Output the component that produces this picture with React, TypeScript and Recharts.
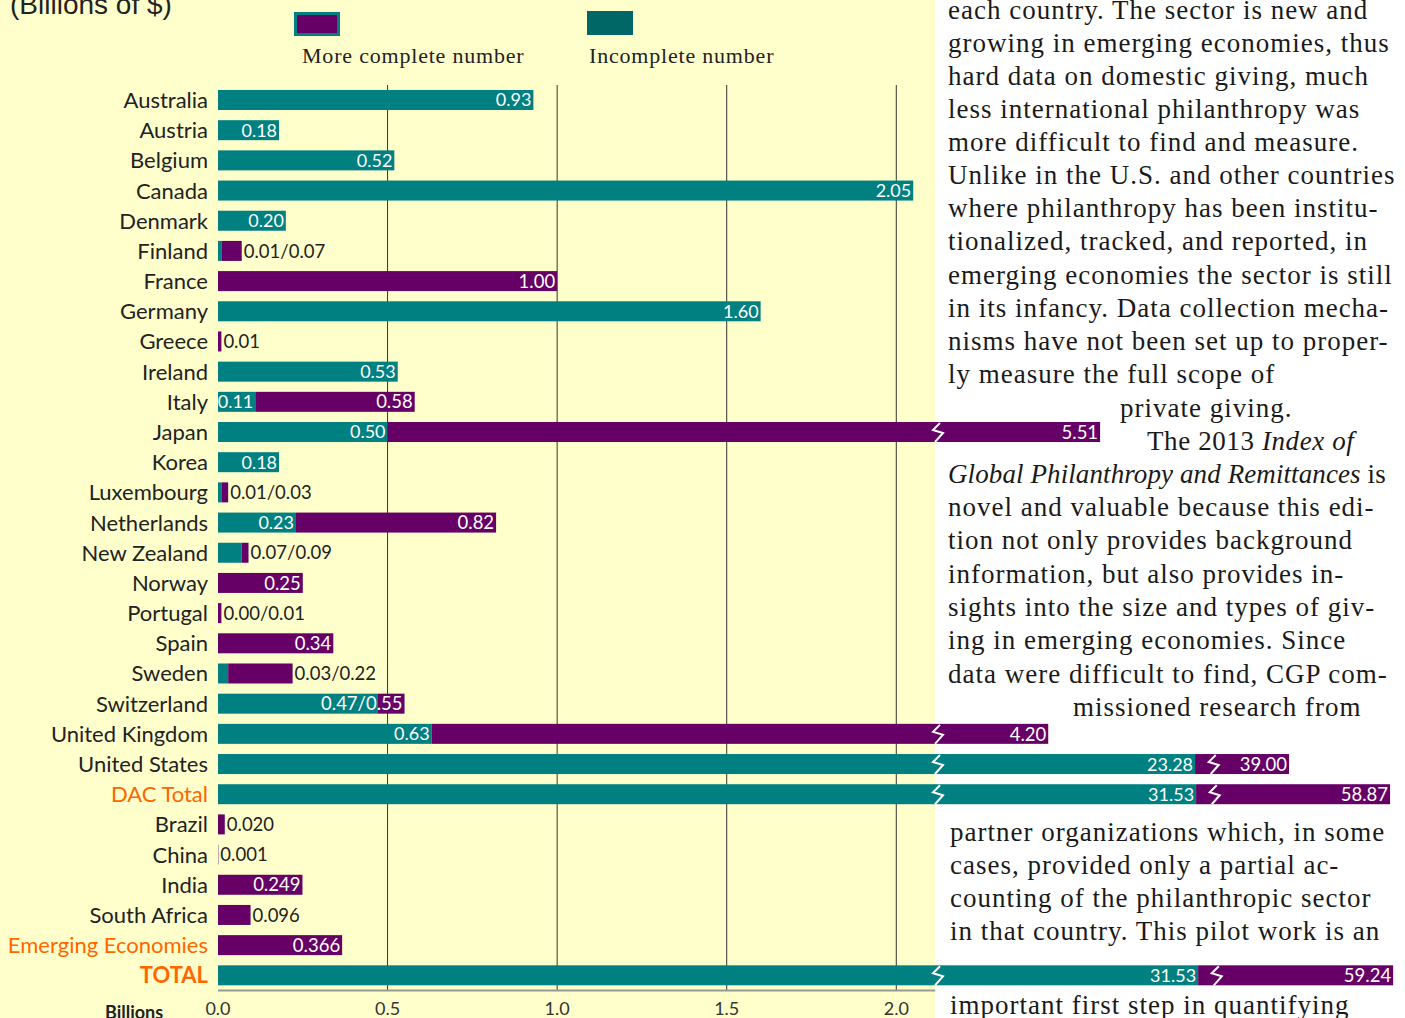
import React from 'react';
import { BarChart, Bar, XAxis, YAxis, CartesianGrid, ReferenceLine, LabelList } from 'recharts';

const categories = [
  'Australia', 'Austria', 'Belgium', 'Canada', 'Denmark', 'Finland', 'France', 'Germany', 'Greece', 'Ireland',
  'Italy', 'Japan', 'Korea', 'Luxembourg', 'Netherlands', 'New Zealand', 'Norway', 'Portugal', 'Spain', 'Sweden',
  'Switzerland', 'United Kingdom', 'United States', 'DAC Total', 'Brazil', 'China', 'India', 'South Africa',
  'Emerging Economies', 'TOTAL',
];

// incomplete number (teal), billions of $
const incomplete = [
  0.93, 0.18, 0.52, 2.05, 0.2, 0.01, 0, 1.6, 0, 0.53,
  0.11, 0.5, 0.18, 0.01, 0.23, 0.07, 0, 0, 0, 0.03,
  0.47, 0.63, 23.28, 31.53, 0, 0, 0, 0, 0, 31.53,
];

// more complete number (purple), billions of $
const moreComplete = [
  0, 0, 0, 0, 0, 0.07, 1.0, 0, 0.01, 0,
  0.58, 5.51, 0, 0.03, 0.82, 0.09, 0.25, 0.01, 0.34, 0.22,
  0.55, 4.2, 39.0, 58.87, 0.02, 0.001, 0.249, 0.096, 0.366, 59.24,
];

// lengths as drawn for the broken bars (axis units), null = true length
const shownIncomplete = [
  null, null, null, null, null, null, null, null, null, null,
  null, null, null, null, null, null, null, null, null, null,
  null, null, 2.881, 2.884, null, null, null, null, null, 2.89,
];
const shownTotal = [
  null, null, null, null, null, null, null, null, null, null,
  null, 2.601, null, null, null, null, null, null, null, null,
  null, 2.448, 3.158, 3.456, null, null, null, null, null, 3.465,
];

const tealText = [
  '0.93', '0.18', '0.52', '2.05', '0.20', '', '', '1.60', '', '0.53',
  '0.11', '0.50', '0.18', '', '0.23', '', '', '', '', '',
  '', '0.63', '23.28', '31.53', '', '', '', '', '', '31.53',
];
const endText = [
  '', '', '', '', '', '0.01/0.07', '1.00', '', '0.01', '',
  '0.58', '5.51', '', '0.01/0.03', '0.82', '0.07/0.09', '0.25', '0.00/0.01', '0.34', '0.03/0.22',
  '0.47/0.55', '4.20', '39.00', '58.87', '0.020', '0.001', '0.249', '0.096', '0.366', '59.24',
];

const xTicks = [0, 0.5, 1.0, 1.5, 2.0];
const orangeRows = ['DAC Total', 'Emerging Economies', 'TOTAL'];

const SCALE_BREAK = 2.123; // where the axis runs out of the yellow panel
const BREAK_GAP = 0.055;
const PANEL_END = 2.115;

const TEAL = '#008080';
const PURPLE = '#660066';
const SANS = 'Lato, "Liberation Sans", sans-serif';
const SERIF = '"Liberation Serif", "DejaVu Serif", serif';

const rows = categories.map((name, i) => {
  const tealLen = shownIncomplete[i] ?? incomplete[i];
  const endLen = shownTotal[i] ?? Math.max(moreComplete[i], incomplete[i]);
  const purpleLen = moreComplete[i] > 0 ? endLen - tealLen : 0;
  let tealBreak = null;
  let purpleBreak = null;
  if (incomplete[i] > SCALE_BREAK) tealBreak = SCALE_BREAK;
  if (moreComplete[i] > SCALE_BREAK) purpleBreak = tealLen < SCALE_BREAK ? SCALE_BREAK : tealLen + BREAK_GAP;
  return { name, tealLen, purpleLen, endLen, tealBreak, purpleBreak, tealText: tealText[i], endText: endText[i] };
});

const Zig = ({ bx, y, h }) => (
  <polyline
    points={`${bx + 2},${y + 1} ${bx - 5},${y + 8} ${bx + 5},${y + 11} ${bx - 3},${y + h}`}
    fill="none"
    stroke="#fff"
    strokeWidth={2}
  />
);

const makeShape = (color, start, len, brk) => (props) => {
  const { x, y, width, height, index } = props;
  if (!width || width <= 0) return null;
  const r = rows[index];
  const s = start(r);
  const l = len(r);
  const b = brk(r);
  const ppu = width / l;
  return (
    <g>
      <rect x={x} y={y} width={width} height={height} fill={color} />
      {b != null && <Zig bx={x + (b - s) * ppu} y={y} h={height} />}
    </g>
  );
};

const TealShape = makeShape(TEAL, () => 0, (r) => r.tealLen, (r) => r.tealBreak);
const PurpleShape = makeShape(PURPLE, (r) => r.tealLen, (r) => r.purpleLen, (r) => r.purpleBreak);

const TealLabel = (props) => {
  const { x, y, width, height, index } = props;
  const r = rows[index];
  if (!r || !r.tealText) return null;
  return (
    <text x={x + width - 2} y={y + height / 2} dy="0.36em" textAnchor="end" fill="#fff" fontFamily={SANS} fontSize={18}>
      {r.tealText}
    </text>
  );
};

const EndLabel = (props) => {
  const { x, y, width, height, index } = props;
  const r = rows[index];
  if (!r || !r.endText) return null;
  const ppu = r.purpleLen > 0 ? width / r.purpleLen : 339;
  const barPx = r.endLen * ppu;
  const outside = barPx < r.endText.length * 9 + 8;
  const ex = x + width;
  return (
    <text
      x={outside ? ex + 2 : ex - 2}
      y={y + height / 2}
      dy="0.36em"
      textAnchor={outside ? 'start' : 'end'}
      fill={outside ? '#222' : '#fff'}
      fontFamily={SANS}
      fontSize={18.5}
    >
      {r.endText}
    </text>
  );
};

const CatTick = ({ x, y, payload }) => {
  const name = payload.value;
  const orange = orangeRows.includes(name);
  return (
    <text x={x} y={y} dy="0.36em" textAnchor="end" fontFamily={SANS} fontSize={22}
      fontWeight={name === 'TOTAL' ? 700 : 400} fill={orange ? '#FF6600' : '#222'}>
      {name}
    </text>
  );
};

const bodyLines = [
  { t: 'each country. The sector is new and', y: 10, x: 948 },
  { t: 'growing in emerging economies, thus', y: 43, x: 948 },
  { t: 'hard data on domestic giving, much', y: 76, x: 948 },
  { t: 'less international philanthropy was', y: 109, x: 948 },
  { t: 'more difficult to find and measure.', y: 142, x: 948 },
  { t: 'Unlike in the U.S. and other countries', y: 175, x: 948 },
  { t: 'where philanthropy has been institu-', y: 208, x: 948 },
  { t: 'tionalized, tracked, and reported, in', y: 241, x: 948 },
  { t: 'emerging economies the sector is still', y: 275, x: 948 },
  { t: 'in its infancy. Data collection mecha-', y: 308, x: 948 },
  { t: 'nisms have not been set up to proper-', y: 341, x: 948 },
  { t: 'ly measure the full scope of', y: 374, x: 948 },
  { t: 'private giving.', y: 408, x: 1120 },
  { t: <>The 2013 <i>Index of</i></>, y: 441, x: 1147, ls: 0.6 },
  { t: <><i>Global Philanthropy and Remittances</i> is</>, y: 474, x: 948, ls: 0.1 },
  { t: 'novel and valuable because this edi-', y: 507, x: 948 },
  { t: 'tion not only provides background', y: 540, x: 948 },
  { t: 'information, but also provides in-', y: 574, x: 948 },
  { t: 'sights into the size and types of giv-', y: 607, x: 948 },
  { t: 'ing in emerging economies. Since', y: 640, x: 948 },
  { t: 'data were difficult to find, CGP com-', y: 674, x: 948 },
  { t: 'missioned research from', y: 707, x: 1073 },
  { t: 'partner organizations which, in some', y: 832, x: 950 },
  { t: 'cases, provided only a partial ac-', y: 865, x: 950 },
  { t: 'counting of the philanthropic sector', y: 898, x: 950 },
  { t: 'in that country. This pilot work is an', y: 931, x: 950 },
  { t: 'important first step in quantifying', y: 1005, x: 950 },
];

const App = () => {
  return (
    <div style={{ position: 'absolute', left: 0, top: 0, width: 1405, height: 1018, overflow: 'hidden', background: '#fff' }}>
      <div style={{ position: 'absolute', left: 0, top: 0, width: 935, height: 1018, background: '#FFFFCC' }} />

      {bodyLines.map((l, i) => (
        <div key={i} style={{ position: 'absolute', left: l.x, top: l.y - 17, height: 34, lineHeight: '34px',
          fontFamily: SERIF, fontSize: 27, letterSpacing: l.ls ?? 1, color: '#1a1a1a', whiteSpace: 'nowrap' }}>
          {l.t}
        </div>
      ))}

      <div style={{ position: 'absolute', left: 10, top: -11, fontFamily: '"Liberation Sans", Arial, sans-serif', fontSize: 28, color: '#222' }}>
        (Billions of $)
      </div>

      <div style={{ position: 'absolute', left: 294, top: 12, width: 40, height: 18, background: PURPLE, border: `3px solid ${TEAL}` }} />
      <div style={{ position: 'absolute', left: 587, top: 11, width: 46, height: 24, background: '#006666' }} />
      <div style={{ position: 'absolute', left: 302, top: 43, fontFamily: SERIF, fontSize: 22, letterSpacing: 0.8, color: '#222' }}>More complete number</div>
      <div style={{ position: 'absolute', left: 589, top: 43, fontFamily: SERIF, fontSize: 22, letterSpacing: 0.8, color: '#222' }}>Incomplete number</div>

      <div style={{ position: 'absolute', left: 105, top: 1001, fontFamily: SANS, fontSize: 18, fontWeight: 700, color: '#222' }}>Billions</div>

      <div style={{ position: 'absolute', left: 0, top: 0 }}>
        <BarChart
          width={1405}
          height={1040}
          data={rows}
          layout="vertical"
          barSize={20}
          margin={{ top: 85, right: 0, bottom: 19.5, left: 0 }}
        >
          <CartesianGrid horizontal={false} vertical verticalValues={[0.5, 1.0, 1.5, 2.0]} stroke="#333" strokeWidth={1} />
          <XAxis
            type="number"
            domain={[0, 3.5]}
            ticks={xTicks}
            tickFormatter={(v) => v.toFixed(1)}
            axisLine={false}
            tickLine={false}
            tickSize={0}
            tickMargin={12}
            height={30}
            tick={{ fontFamily: SANS, fontSize: 18, fill: '#333' }}
          />
          <YAxis
            type="category"
            dataKey="name"
            width={218}
            axisLine={false}
            tickLine={false}
            tickSize={0}
            tickMargin={10}
            interval={0}
            tick={<CatTick />}
          />
          <YAxis
            yAxisId="rows"
            type="number"
            domain={[0, 30]}
            reversed
            ticks={Array.from({ length: 31 }, (_, k) => k)}
            width={0}
            axisLine={{ stroke: '#000', strokeWidth: 2 }}
            tickLine={{ stroke: '#000', strokeWidth: 1.5 }}
            tickSize={6}
            tick={false}
          />
          <ReferenceLine yAxisId="rows" segment={[{ x: 0, y: 0 }, { x: PANEL_END, y: 0 }]} stroke="#999" strokeWidth={2} />
          <ReferenceLine yAxisId="rows" segment={[{ x: 0, y: 30 }, { x: PANEL_END, y: 30 }]} stroke="#000" strokeWidth={2} />
          <Bar dataKey="tealLen" stackId="a" fill={TEAL} shape={TealShape} isAnimationActive={false}>
            <LabelList dataKey="tealText" content={TealLabel} />
          </Bar>
          <Bar dataKey="purpleLen" stackId="a" fill={PURPLE} shape={PurpleShape} isAnimationActive={false}>
            <LabelList dataKey="endText" content={EndLabel} />
          </Bar>
        </BarChart>
      </div>
    </div>
  );
};

export default App;
